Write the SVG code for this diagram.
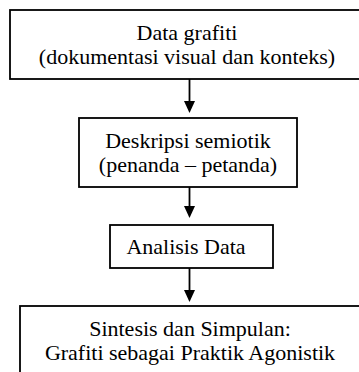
<svg xmlns="http://www.w3.org/2000/svg" width="359" height="372" viewBox="0 0 359 372">
<defs>
<style>
.box{fill:#fff;stroke:#000;stroke-width:1.8}
.t{font-family:"Liberation Serif","Times New Roman",serif;font-size:22px;fill:#000;text-anchor:middle}
.c{stroke:#000;stroke-width:1.8;fill:none}
.h{fill:#000}
</style>
</defs>
<rect width="359" height="372" fill="#fff"/>
<g id="connectors">
<line class="c" x1="189.5" y1="79" x2="189.5" y2="101"/>
<path class="h" d="M184,101 L195,101 L189.5,113 Z"/>
<line class="c" x1="189.5" y1="187" x2="189.5" y2="206"/>
<path class="h" d="M184,206 L195,206 L189.5,218 Z"/>
<line class="c" x1="189.5" y1="268" x2="189.5" y2="290"/>
<path class="h" d="M184,290 L195,290 L189.5,302 Z"/>
</g>
<g id="n1">
<rect class="box" x="10" y="10" width="354" height="69"/>
<text class="t" x="187" y="40">Data grafiti</text>
<text class="t" x="187" y="64">(dokumentasi visual dan konteks)</text>
</g>
<g id="n2">
<rect class="box" x="79" y="118" width="218" height="69"/>
<text class="t" x="188" y="148">Deskripsi semiotik</text>
<text class="t" x="188" y="172">(penanda – petanda)</text>
</g>
<g id="n3">
<rect class="box" x="110" y="225" width="163" height="43"/>
<text class="t" x="186" y="254">Analisis Data</text>
</g>
<g id="n4">
<rect class="box" x="20" y="306" width="345" height="80"/>
<text class="t" x="190" y="336">Sintesis dan Simpulan:</text>
<text class="t" x="190" y="360">Grafiti sebagai Praktik Agonistik</text>
</g>
</svg>
